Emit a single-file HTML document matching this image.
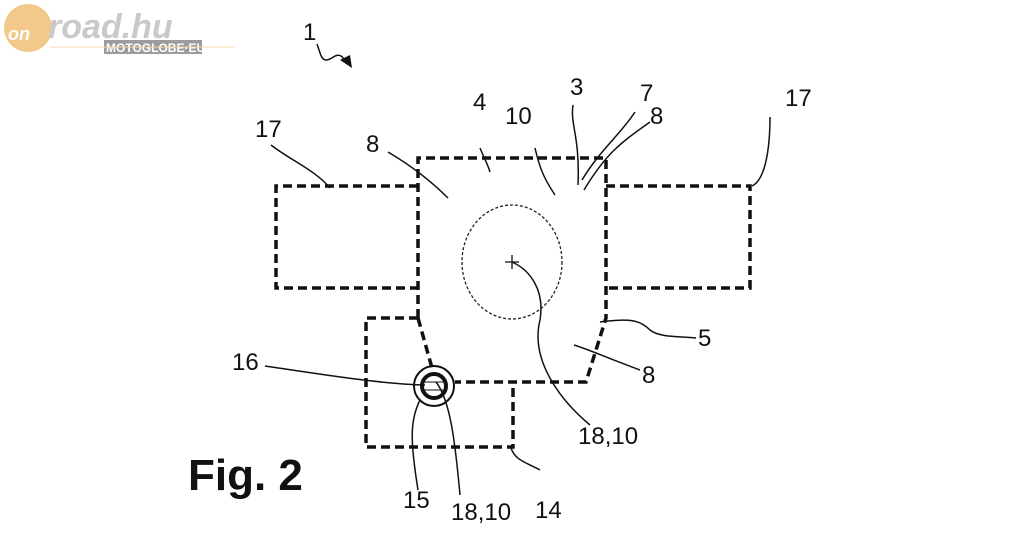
<!DOCTYPE html>
<html><head><style>
body{margin:0;background:#fff;width:1024px;height:552px;overflow:hidden}
svg{display:block}
text{font-family:"Liberation Sans",sans-serif;fill:#111}
</style></head><body>
<svg width="1024" height="552" viewBox="0 0 1024 552">
<!-- logo -->
<circle cx="28" cy="28" r="24" fill="#f2c98a"/>
<text x="8" y="40" font-size="18" font-style="italic" fill="#fff" style="fill:#fff" font-weight="bold">on</text>
<text x="48" y="38" font-size="34" font-style="italic" style="fill:#c9c9c9" font-weight="bold">road.hu</text>
<rect x="104" y="40" width="98" height="14" fill="#9c9c9c"/>
<text x="106" y="52" font-size="12" font-weight="bold" style="fill:#fff">MOTOGLOBE·EU</text>
<line x1="50" y1="47" x2="235" y2="47" stroke="#f2d9a8" stroke-width="1"/>

<g fill="none" stroke="#111" stroke-width="3.5" stroke-dasharray="9,5">
<path d="M418 318 V158 H606 V318 L586 382 H455"/>
<path d="M418 318 L432 368"/>
<path d="M418 186 H276 V288 H418"/>
<path d="M606 186 H750 V288 H606"/>
<path d="M418 318 H366 V447 H513 V382"/>
</g>
<ellipse cx="512" cy="262" rx="50" ry="57" fill="none" stroke="#222" stroke-width="1.3" stroke-dasharray="3,2"/>
<path d="M505 262 H519 M512 255 V269" stroke="#111" stroke-width="1.3"/>
<circle cx="434" cy="386" r="20" fill="none" stroke="#111" stroke-width="2"/>
<circle cx="434" cy="386" r="12" fill="none" stroke="#111" stroke-width="4"/>
<path d="M424 382 H444 M424 390 H444" stroke="#111" stroke-width="1"/>

<g fill="none" stroke="#111" stroke-width="1.5">
<path d="M317 44 C320 52 321 60 326 60 C332 60 335 53 341 56 C344 58 345 61 346 63"/>
<path d="M271 145 C290 160 315 170 330 188"/>
<path d="M388 152 C410 165 430 180 448 198"/>
<path d="M480 148 C485 160 488 165 490 172"/>
<path d="M535 148 C540 170 545 180 555 195"/>
<path d="M573 105 C570 125 580 135 578 185"/>
<path d="M635 112 C620 135 600 150 582 180"/>
<path d="M650 122 C625 140 608 150 584 190"/>
<path d="M770 117 C770 150 765 180 752 186"/>
<path d="M600 322 C630 318 640 320 650 330 C660 338 680 336 696 338"/>
<path d="M574 345 C590 350 600 355 640 370"/>
<path d="M512 262 C530 270 545 290 540 320 C530 360 560 400 590 425"/>
<path d="M265 366 C320 374 380 384 425 385"/>
<path d="M420 400 C410 420 410 440 418 490"/>
<path d="M436 382 C450 400 455 440 460 495"/>
<path d="M511 448 C515 460 525 462 540 470"/>
</g>
<polygon points="340,60 352,68 350,55" fill="#111"/>
<g font-size="24">
<text x="303" y="40">1</text>
<text x="255" y="137">17</text>
<text x="366" y="152">8</text>
<text x="473" y="110">4</text>
<text x="505" y="124">10</text>
<text x="570" y="95">3</text>
<text x="640" y="101">7</text>
<text x="650" y="124">8</text>
<text x="785" y="106">17</text>
<text x="698" y="346">5</text>
<text x="642" y="383">8</text>
<text x="232" y="370">16</text>
<text x="578" y="444">18,10</text>
<text x="403" y="508">15</text>
<text x="451" y="520">18,10</text>
<text x="535" y="518">14</text>
</g>
<text x="188" y="490" font-size="44" font-weight="bold">Fig. 2</text>
</svg>
</body></html>
